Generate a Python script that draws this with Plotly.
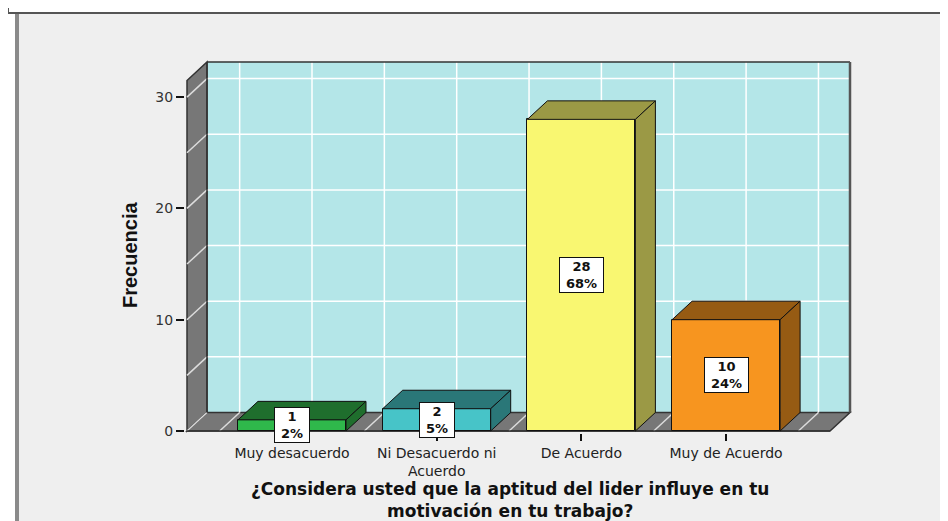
import plotly.graph_objects as go

# ---------------- data ----------------
categories = ["Muy desacuerdo", "Ni Desacuerdo ni<br>Acuerdo", "De Acuerdo", "Muy de Acuerdo"]
frecuencias = [1, 2, 28, 10]
y_tick_vals = [0, 10, 20, 30]
front_colors = ["#2FB84B", "#47C4C8", "#F9F771", "#F7951F"]
shade_colors = ["#1F6E2D", "#2A7778", "#9B9945", "#965B13"]
x_title = "¿Considera usted que la aptitud del lider influye en tu<br>motivación en tu trabajo?"
y_title = "Frecuencia"

total = sum(frecuencias)
porcentajes = [round(100 * f / total) for f in frecuencias]

# ---------------- geometry (layout) ----------------
OFF = 8                                  # page body margin
W, H = 948 - OFF, 521 - OFF
PL, PR, PT, PB = 185, 852, 60, 433      # plot area in page pixels
SX, SY = 144.7, 11.13                   # px per category / per unit
CX0, VY0 = 292, 431                     # page pixel of category 0 and value 0


def cx(px):
    return (px - CX0) / SX


def vy(py):
    return (VY0 - py) / SY


def pxp(px):
    return (px - PL) / (PR - PL)


def pyp(py):
    return (PB - py) / (PB - PT)


X0 = cx(187)          # front-left edge
X1 = cx(850)          # back-right edge
DX = 20 / SX          # depth offset in x
DY = 18.5 / SY        # depth offset in y
YTOP = vy(62)         # back wall top
BW = 108 / SX         # bar width

WALL = "#B4E6E8"
GREY = "#777777"
EDGE = "#333333"
DIAG = "#DCDCDC"

shapes = []
# page background / frame
shapes.append(dict(type="rect", xref="paper", yref="paper", x0=pxp(17), x1=pxp(960),
                   y0=pyp(530), y1=pyp(13), fillcolor="#EFEFEF", line=dict(width=0), layer="below"))
shapes.append(dict(type="line", xref="paper", yref="paper", x0=pxp(17), x1=pxp(17),
                   y0=pyp(530), y1=pyp(13), line=dict(color="#8A8A8A", width=4), layer="below"))
shapes.append(dict(type="line", xref="paper", yref="paper", x0=pxp(8), x1=pxp(960),
                   y0=pyp(13), y1=pyp(13), line=dict(color="#555555", width=2), layer="below"))
shapes.append(dict(type="line", xref="paper", yref="paper", x0=pxp(8.5), x1=pxp(8.5),
                   y0=pyp(13), y1=pyp(8), line=dict(color="#555555", width=1), layer="below"))

# back wall
shapes.append(dict(type="rect", xref="x", yref="y", x0=X0 + DX, x1=X1, y0=DY, y1=YTOP,
                   fillcolor=WALL, line=dict(width=0), layer="below"))
# side wall
shapes.append(dict(type="path", xref="x", yref="y",
                   path=f"M{X0},0 L{X0},{YTOP - DY} L{X0 + DX},{YTOP} L{X0 + DX},{DY} Z",
                   fillcolor=GREY, line=dict(color=EDGE, width=1.5), layer="below"))
# floor
shapes.append(dict(type="path", xref="x", yref="y",
                   path=f"M{X0},0 L{X0 + DX},{DY} L{X1},{DY} L{X1 - DX},0 Z",
                   fillcolor=GREY, line=dict(color=EDGE, width=1.5), layer="below"))

# gridlines: horizontal on back wall + diagonals on side wall
v = 5
while v <= 30:
    shapes.append(dict(type="line", xref="x", yref="y", x0=X0 + DX, x1=X1, y0=v + DY, y1=v + DY,
                       line=dict(color="white", width=1.5), layer="below"))
    shapes.append(dict(type="line", xref="x", yref="y", x0=X0, x1=X0 + DX, y0=v, y1=v + DY,
                       line=dict(color=DIAG, width=1.5), layer="below"))
    v += 5
# vertical gridlines on back wall + diagonals on floor
k = -0.5
while k <= 3.5:
    shapes.append(dict(type="line", xref="x", yref="y", x0=k + DX, x1=k + DX, y0=DY, y1=YTOP,
                       line=dict(color="white", width=1.5), layer="below"))
    shapes.append(dict(type="line", xref="x", yref="y", x0=k, x1=k + DX, y0=0, y1=DY,
                       line=dict(color=DIAG, width=1.5), layer="below"))
    k += 0.5
shapes.append(dict(type="line", xref="x", yref="y", x0=X0, x1=X0 + DX, y0=0, y1=DY,
                   line=dict(color=DIAG, width=1.5), layer="below"))
# wall edges
shapes.append(dict(type="line", xref="x", yref="y", x0=X0 + DX, x1=X1, y0=YTOP, y1=YTOP,
                   line=dict(color=EDGE, width=1.5), layer="below"))
shapes.append(dict(type="line", xref="x", yref="y", x0=X1, x1=X1, y0=DY, y1=YTOP,
                   line=dict(color="#555555", width=2.5), layer="below"))
shapes.append(dict(type="line", xref="x", yref="y", x0=X0 + DX, x1=X0 + DX, y0=DY, y1=YTOP,
                   line=dict(color=EDGE, width=1.5), layer="below"))
shapes.append(dict(type="line", xref="x", yref="y", x0=X0, x1=X1 - DX, y0=0, y1=0,
                   line=dict(color=EDGE, width=1.5), layer="below"))

fig = go.Figure()
xs = list(range(len(categories)))

# front faces
fig.add_trace(go.Bar(x=xs, y=frecuencias, width=BW, marker=dict(color=front_colors,
                     line=dict(color="#111111", width=1)), hoverinfo="skip", showlegend=False))

# top and side faces
for i, f in enumerate(frecuencias):
    l, r = i - BW / 2, i + BW / 2
    fig.add_trace(go.Scatter(x=[l, l + DX, r + DX, r, l], y=[f, f + DY, f + DY, f, f],
                             fill="toself", fillcolor=shade_colors[i], mode="lines",
                             line=dict(color="#111111", width=1), hoverinfo="skip", showlegend=False))
    fig.add_trace(go.Scatter(x=[r, r + DX, r + DX, r, r], y=[0, DY, f + DY, f, 0],
                             fill="toself", fillcolor=shade_colors[i], mode="lines",
                             line=dict(color="#111111", width=1), hoverinfo="skip", showlegend=False))

annotations = []
for i, (f, p) in enumerate(zip(frecuencias, porcentajes)):
    txt = f"{p}%"
    annotations.append(dict(x=i, y=f / 2, xref="x", yref="y", showarrow=False,
                            text=f"<b>{f}<br>{txt}</b>", align="center",
                            font=dict(family="DejaVu Sans", size=13, color="#111111"),
                            bgcolor="white", bordercolor="#111111", borderwidth=1, borderpad=1,
                            width=14 + 9 * len(txt)))

annotations.append(dict(x=pxp(130), y=pyp(255), xref="paper", yref="paper", showarrow=False,
                        text=f"<b>{y_title}</b>", textangle=-90,
                        font=dict(family="Liberation Sans Narrow, Liberation Sans, Arial", size=20,
                                  color="#111111"),
                        xanchor="center", yanchor="middle"))
annotations.append(dict(x=pxp(510), y=pyp(500), xref="paper", yref="paper", showarrow=False,
                        text=f"<b>{x_title}</b>", align="center",
                        font=dict(family="DejaVu Sans", size=17, color="#111111"),
                        xanchor="center", yanchor="middle"))

fig.update_layout(
    width=W, height=H,
    margin=dict(l=PL - OFF, r=948 - PR, t=PT - OFF, b=521 - PB, pad=0),
    paper_bgcolor="white", plot_bgcolor="rgba(0,0,0,0)",
    shapes=shapes, annotations=annotations,
    bargap=0, showlegend=False,
    xaxis=dict(range=[cx(PL), cx(PR)], tickvals=xs, ticktext=categories,
               showgrid=False, zeroline=False, showline=False,
               ticks="outside", ticklen=7, tickcolor="#111111", tickwidth=1.5,
               tickfont=dict(family="DejaVu Sans", size=14, color="#222222"), fixedrange=True),
    yaxis=dict(range=[vy(PB), vy(PT)], tickvals=y_tick_vals, ticktext=[str(t) for t in y_tick_vals],
               showgrid=False, zeroline=False, showline=False,
               ticks="outside", ticklen=8, tickcolor="#111111", tickwidth=1.5,
               tickfont=dict(family="DejaVu Sans", size=14, color="#333333"), fixedrange=True),
)

fig.write_html("out.html")
